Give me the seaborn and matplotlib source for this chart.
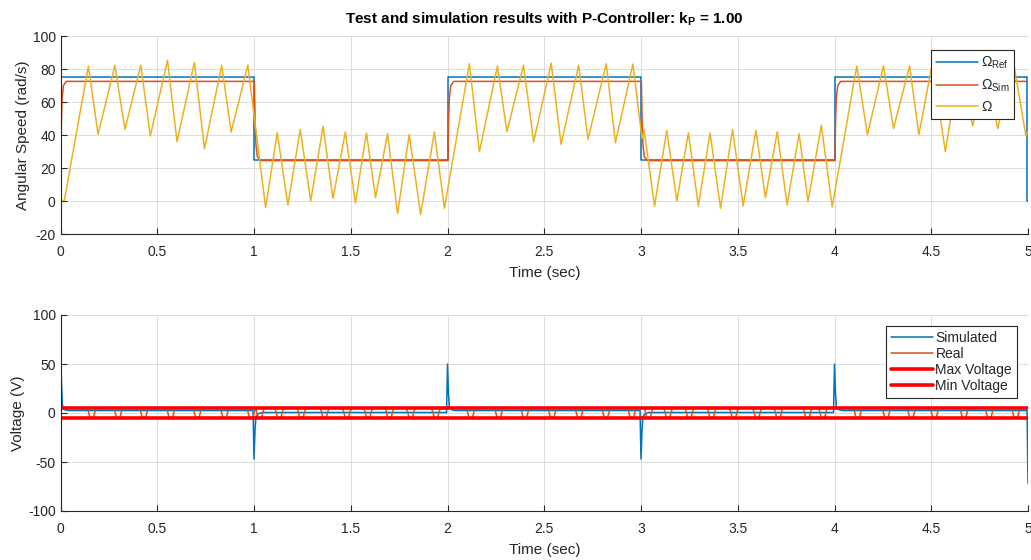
"""
P-Controller test vs simulation: angular speed and voltage
"""

import numpy as np
import pandas as pd
import matplotlib
matplotlib.use('Agg')
import matplotlib.pyplot as plt
import seaborn as sns

# ---- data ----
# reference speed (rad/s), step profile
ref_t = [0.0, 1.0, 2.0, 3.0, 4.0, 4.995, 5.0]
ref_v = [75, 25, 75, 25, 75, 0, 0]

# simulated speed (rad/s)
sim_t = [0.000, 0.004, 0.008, 0.015, 0.030,
         1.002, 1.006, 1.010, 1.017, 1.032,
         2.002, 2.006, 2.010, 2.017, 2.032,
         3.002, 3.006, 3.010, 3.017, 3.032,
         4.002, 4.006, 4.010, 4.017, 4.032, 5.000]
sim_v = [0, 45, 62, 70, 72.5,
         72.5, 46, 34, 27, 24.5,
         24.5, 51, 63, 70, 72.5,
         72.5, 46, 34, 27, 24.5,
         24.5, 51, 63, 70, 72.5, 72.5]

# measured speed (rad/s), peaks and troughs
meas_t = [0.000, 0.020, 0.144, 0.194, 0.281, 0.333, 0.415, 0.464, 0.553, 0.602,
          0.692, 0.744, 0.833, 0.882, 0.968, 1.060, 1.120, 1.175, 1.239, 1.293,
          1.357, 1.408, 1.472, 1.524, 1.581, 1.628, 1.690, 1.742, 1.802, 1.861,
          1.932, 1.984, 2.113, 2.165, 2.258, 2.307, 2.393, 2.445, 2.536, 2.587,
          2.678, 2.726, 2.820, 2.868, 2.958, 3.005, 3.016, 3.070, 3.133, 3.185,
          3.245, 3.296, 3.357, 3.411, 3.473, 3.528, 3.594, 3.643, 3.704, 3.755,
          3.817, 3.863, 3.932, 3.988, 4.115, 4.170, 4.253, 4.305, 4.388, 4.436,
          4.505, 4.573, 4.645, 4.714, 4.780, 4.843, 4.925, 4.989, 5.000]
meas_v = [0.0, 0.5, 81.8, 40.4, 82.2, 43.4, 82.4, 39.4, 85.3, 36.0,
          84.0, 31.7, 82.2, 41.8, 82.4, -4.0, 41.4, -2.4, 43.4, 0.0,
          45.3, 1.6, 41.8, -1.2, 41.2, 2.0, 40.8, -7.7, 40.4, -8.1,
          41.8, -4.4, 83.2, 29.9, 81.8, 42.0, 82.4, 35.8, 83.6, 34.3,
          82.4, 37.4, 83.2, 35.4, 83.0, 38.0, 43.0, -3.0, 42.8, 0.0,
          41.4, -3.0, 41.2, -4.4, 43.4, -3.0, 42.8, 2.0, 42.0, -2.4,
          40.8, -0.4, 46.0, -3.6, 81.8, 40.2, 81.8, 44.0, 81.8, 40.4,
          83.0, 29.9, 83.0, 45.5, 83.0, 44.0, 84.0, 39.4, 42.0]

# simulated voltage (V)
vsim_t = [0.000, 0.005, 0.010, 0.020, 0.040, 0.995, 1.000, 1.005, 1.010, 1.020, 1.040,
          1.995, 2.000, 2.005, 2.010, 2.020, 2.040, 2.995, 3.000, 3.005, 3.010, 3.020,
          3.040, 3.995, 4.000, 4.005, 4.010, 4.020, 4.040, 4.995, 5.000]
vsim_v = [75, 30, 8, 3.5, 2.5, 2.5, -47, -18, -4, -1, 0.5,
          0.5, 50, 20, 6, 3.5, 2.5, 2.5, -47, -18, -4, -1,
          0.5, 0.5, 50, 20, 6, 3.5, 2.5, 2.5, -72]

# real voltage: saturated at +5 V with short dips to -5 V
real_dips = [0.161, 0.298, 0.431, 0.570, 0.707, 0.848, 0.985,
             1.030, 1.130, 1.245, 1.365, 1.480, 1.590, 1.700, 1.810, 1.940,
             2.120, 2.265, 2.400, 2.541, 2.681, 2.819, 2.953,
             3.039, 3.140, 3.250, 3.365, 3.480, 3.600, 3.710, 3.860, 3.940,
             4.120, 4.268, 4.397, 4.517, 4.670, 4.800, 4.937]
dip_shape_t = [-0.022, -0.008, 0.008, 0.022]
dip_shape_v = [5, -5, -5, 5]

v_max = 5
v_min = -5
kp = 1.00

# ---- style ----
sns.set_style('whitegrid')
plt.rcParams['font.family'] = ['Liberation Sans', 'DejaVu Sans']
plt.rcParams['mathtext.fontset'] = 'custom'
plt.rcParams['mathtext.rm'] = 'Liberation Sans'
plt.rcParams['mathtext.it'] = 'Liberation Sans:italic'
plt.rcParams['mathtext.bf'] = 'Liberation Sans:bold'
plt.rcParams['axes.unicode_minus'] = False

BLUE = '#0072BD'
ORANGE = '#D95319'
YELLOW = '#EDB120'
DARK = '#262626'

fig = plt.figure(figsize=(10.31, 5.6), dpi=100)
ax1 = fig.add_axes([0.0587, 0.5821, 0.9384, 0.3536])
ax2 = fig.add_axes([0.0587, 0.0875, 0.9384, 0.3500])


def style_axes(ax):
    ax.set_xlim(0, 5)
    ax.set_xticks(np.arange(0, 5.01, 0.5))
    ax.set_xticklabels(['0', '0.5', '1', '1.5', '2', '2.5', '3', '3.5', '4', '4.5', '5'])
    for s in ['top', 'right']:
        ax.spines[s].set_visible(False)
    for s in ['left', 'bottom']:
        ax.spines[s].set_color(DARK)
        ax.spines[s].set_linewidth(0.8)
    ax.tick_params(direction='in', length=4, width=0.8, color=DARK,
                   labelcolor=DARK, labelsize=10, left=True, bottom=True)
    ax.tick_params(axis='x', pad=8)
    ax.grid(True, color='#DCDCDC', linewidth=0.7)
    ax.set_axisbelow(True)
    ax.set_xlabel('Time (sec)', fontsize=11, color=DARK, labelpad=5)


# ---- top: angular speed ----
ref_df = pd.DataFrame({'t': ref_t, 'w': ref_v})
sns.lineplot(data=ref_df, x='t', y='w', ax=ax1, color=BLUE, lw=1.1,
             drawstyle='steps-post', estimator=None, sort=False,
             label=r'$\Omega_{\mathrm{Ref}}$')
sns.lineplot(x=sim_t, y=sim_v, ax=ax1, color=ORANGE, lw=1.1,
             estimator=None, sort=False, label=r'$\Omega_{\mathrm{Sim}}$')
sns.lineplot(x=meas_t, y=meas_v, ax=ax1, color=YELLOW, lw=1.1,
             estimator=None, sort=False, label=r'$\Omega$')
ax1.set_ylim(-20, 100)
ax1.set_yticks(np.arange(-20, 101, 20))
style_axes(ax1)
ax1.set_ylabel('Angular Speed (rad/s)', fontsize=11, color=DARK, labelpad=2)
ax1.set_title(r'Test and simulation results with P-Controller: $\mathbf{k_P}$ = %.2f' % kp,
              fontsize=11, fontweight='bold', color='black', pad=9)
leg1 = ax1.legend(loc='upper right', fontsize=10, frameon=True, fancybox=False,
                  framealpha=1, edgecolor='#262626', handlelength=3.0,
                  handletextpad=0.2, labelspacing=0.45, borderaxespad=1.0,
                  borderpad=0.35)
leg1.get_frame().set_linewidth(0.8)

# ---- bottom: voltage ----
real_t = [0.0]
real_v = [v_max]
for c in real_dips:
    for dt, v in zip(dip_shape_t, dip_shape_v):
        real_t.append(c + dt)
        real_v.append(v)
real_t.append(5.0)
real_v.append(v_max)

sns.lineplot(x=vsim_t, y=vsim_v, ax=ax2, color=BLUE, lw=1.1,
             estimator=None, sort=False, label='Simulated')
sns.lineplot(x=real_t, y=real_v, ax=ax2, color=ORANGE, lw=1.1,
             estimator=None, sort=False, label='Real')
sns.lineplot(x=[0, 5], y=[v_max, v_max], ax=ax2, color='#FF0000', lw=2.6,
             estimator=None, sort=False, label='Max Voltage')
sns.lineplot(x=[0, 5], y=[v_min, v_min], ax=ax2, color='#FF0000', lw=2.6,
             estimator=None, sort=False, label='Min Voltage')
ax2.set_ylim(-100, 100)
ax2.set_yticks(np.arange(-100, 101, 50))
style_axes(ax2)
ax2.set_ylabel('Voltage (V)', fontsize=11, color=DARK, labelpad=2)
leg2 = ax2.legend(loc='upper right', fontsize=10, frameon=True, fancybox=False,
                  framealpha=1, edgecolor='#262626', handlelength=3.0,
                  handletextpad=0.2, labelspacing=0.15, borderaxespad=0.8,
                  borderpad=0.35)
leg2.get_frame().set_linewidth(0.8)

fig.savefig('out.png', dpi=100)
print("Saved: out.png")
